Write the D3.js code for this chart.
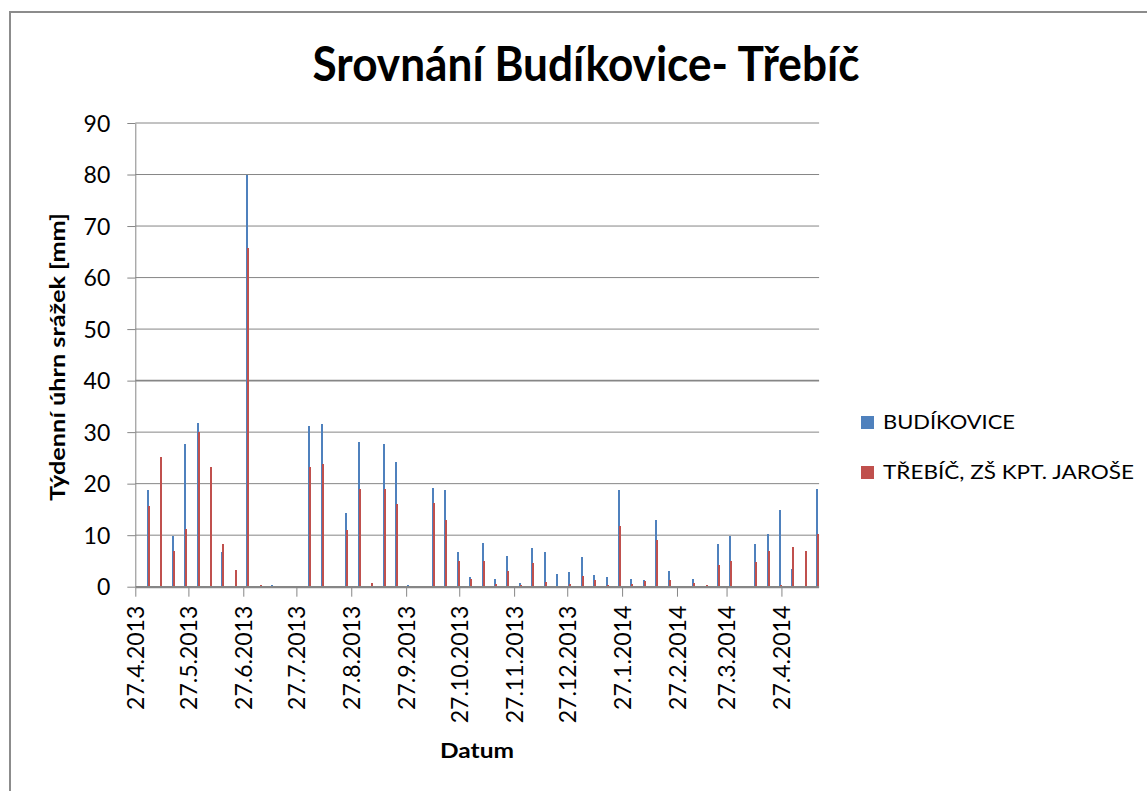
<!DOCTYPE html>
<html>
<head>
<meta charset="utf-8">
<script src="https://cdn.jsdelivr.net/npm/d3@7"></script>
<style>
  body { margin: 0; background: #fff; }
  svg { display: block; }
</style>
</head>
<body>
<div class="container"></div>
<script>
// weekly dates (d.M.yyyy) and weekly precipitation totals in mm
const dates = [
  "27.4.2013", "4.5.2013", "11.5.2013", "18.5.2013", "25.5.2013", "1.6.2013", "8.6.2013", "15.6.2013",
  "22.6.2013", "29.6.2013", "6.7.2013", "13.7.2013", "20.7.2013", "27.7.2013", "3.8.2013", "10.8.2013",
  "17.8.2013", "24.8.2013", "31.8.2013", "7.9.2013", "14.9.2013", "21.9.2013", "28.9.2013", "5.10.2013",
  "12.10.2013", "19.10.2013", "26.10.2013", "2.11.2013", "9.11.2013", "16.11.2013", "23.11.2013", "30.11.2013",
  "7.12.2013", "14.12.2013", "21.12.2013", "28.12.2013", "4.1.2014", "11.1.2014", "18.1.2014", "25.1.2014",
  "1.2.2014", "8.2.2014", "15.2.2014", "22.2.2014", "1.3.2014", "8.3.2014", "15.3.2014", "22.3.2014",
  "29.3.2014", "5.4.2014", "12.4.2014", "19.4.2014", "26.4.2014", "3.5.2014", "10.5.2014", "17.5.2014"
];

const budikovice = [
  0, 18.8, 0, 9.9, 27.7, 31.8, 0, 6.7,
  0, 80.0, 0.2, 0.3, 0, 0, 31.2, 31.5,
  0, 14.3, 28.1, 0, 27.7, 24.2, 0.3, 0,
  19.2, 18.8, 6.7, 1.9, 8.5, 1.5, 6.0, 0.7,
  7.5, 6.7, 2.5, 2.9, 5.8, 2.3, 1.9, 18.8,
  1.5, 1.3, 12.9, 3.0, 0, 1.5, 0.2, 8.3,
  9.9, 0, 8.3, 10.2, 14.9, 3.4, 0, 18.9
];

const trebic = [
  0, 15.7, 25.2, 6.9, 11.2, 30.0, 23.2, 8.3,
  3.2, 65.7, 0.3, 0, 0, 0, 23.2, 23.9,
  0, 11.1, 19.0, 0.7, 19.0, 16.1, 0, 0,
  16.2, 12.9, 4.9, 1.4, 5.0, 0.6, 3.0, 0.3,
  4.6, 1.0, 0, 0.5, 2.1, 1.3, 0.3, 11.8,
  0.5, 1.1, 9.1, 1.3, 0, 0.7, 0.3, 4.2,
  4.9, 0, 4.8, 6.9, 0.3, 7.7, 6.9, 10.2
];

const seriesNames = ["BUDÍKOVICE", "TŘEBÍČ, ZŠ KPT. JAROŠE"];
const seriesColors = ["#4F81BD", "#C0504D"];
const yTicks = [0, 10, 20, 30, 40, 50, 60, 70, 80, 90];
const xTickLabels = [
  "27.4.2013", "27.5.2013", "27.6.2013", "27.7.2013", "27.8.2013", "27.9.2013", "27.10.2013",
  "27.11.2013", "27.12.2013", "27.1.2014", "27.2.2014", "27.3.2014", "27.4.2014"
];
const axisStart = "27.4.2013";
const axisEnd = "18.5.2014";

function parseDate(s) {
  const p = s.split(".");
  return new Date(Date.UTC(+p[2], +p[1] - 1, +p[0]));
}

function formatDate(d) {
  return d.getUTCDate() + "." + (d.getUTCMonth() + 1) + "." + d.getUTCFullYear();
}

const data = dates.map(function(d, i) {
  return { date: parseDate(d), b: budikovice[i], t: trebic[i] };
});

drawChart(data);

function drawChart(data) {
  const W = 1147, H = 791;
  const left = 135.3, right = 818.6, top = 123, bottom = 586.7;
  const font = "Lato, 'Liberation Sans', sans-serif";
  const grey = "#868686";

  const svg = d3.select(".container")
    .append("svg")
    .attr("width", W)
    .attr("height", H);

  // chart border (runs off the picture right and bottom)
  svg.append("rect")
    .attr("x", 10).attr("y", 12)
    .attr("width", 1300).attr("height", 1000)
    .attr("fill", "none")
    .attr("stroke", "#8c8c8c")
    .attr("stroke-width", 2);

  const x = d3.scaleUtc()
    .domain([parseDate(axisStart), parseDate(axisEnd)])
    .range([left, right]);

  const y = d3.scaleLinear()
    .domain([0, 90])
    .range([bottom, top]);

  // gridlines
  svg.append("g")
    .selectAll("line")
    .data(yTicks.filter(function(d){ return d > 0; }))
    .enter()
    .append("line")
    .attr("x1", left).attr("x2", right + 0.5)
    .attr("y1", function(d){ return y(d); })
    .attr("y2", function(d){ return y(d); })
    .attr("stroke", grey)
    .attr("stroke-width", function(d){ return d === 40 ? 1.6 : 1; });

  // y axis
  const yAxis = svg.append("g")
    .attr("transform", "translate(" + left + ",0)")
    .call(d3.axisLeft(y).tickValues(yTicks).tickSize(8).tickSizeOuter(0).tickPadding(17));
  yAxis.select(".domain").attr("stroke", grey);
  yAxis.selectAll(".tick line").attr("stroke", grey);
  yAxis.selectAll("text")
    .attr("dy", "0.36em")
    .style("font-family", font)
    .style("font-size", "23px")
    .attr("fill", "#000");

  // bar centre = middle of the day slot, snapped to a whole pixel
  const half = 12 * 3600 * 1000;
  function xc(d) { return Math.floor(x(new Date(d.date.getTime() + half))); }

  // bars: blue behind, red in front, one pixel to the right
  svg.append("g")
    .attr("shape-rendering", "crispEdges")
    .selectAll(".barB")
    .data(data)
    .enter()
    .append("rect")
    .attr("class", "barB")
    .attr("x", function(d){ return xc(d) - 1; })
    .attr("y", function(d){ return y(d.b); })
    .attr("width", 2)
    .attr("height", function(d){ return bottom - y(d.b); })
    .attr("fill", seriesColors[0]);

  svg.append("g")
    .attr("shape-rendering", "crispEdges")
    .selectAll(".barT")
    .data(data)
    .enter()
    .append("rect")
    .attr("class", "barT")
    .attr("x", function(d){ return xc(d); })
    .attr("y", function(d){ return y(d.t); })
    .attr("width", 2)
    .attr("height", function(d){ return bottom - y(d.t); })
    .attr("fill", seriesColors[1]);

  // x axis
  const xAxis = svg.append("g")
    .attr("transform", "translate(0," + bottom + ")")
    .call(d3.axisBottom(x)
      .tickValues(xTickLabels.map(parseDate))
      .tickSize(10)
      .tickSizeOuter(0)
      .tickFormat(formatDate));
  xAxis.select(".domain")
    .attr("stroke", grey)
    .attr("stroke-width", 2.2);
  xAxis.selectAll(".tick line").attr("stroke", grey);
  xAxis.selectAll("text")
    .attr("transform", "rotate(-90)")
    .attr("x", -19)
    .attr("y", 0)
    .attr("dy", "0.36em")
    .style("text-anchor", "end")
    .style("font-family", font)
    .style("font-size", "23px")
    .attr("fill", "#000");

  // title
  svg.append("text")
    .attr("x", 586)
    .attr("y", 81)
    .attr("text-anchor", "middle")
    .attr("textLength", 547)
    .attr("lengthAdjust", "spacingAndGlyphs")
    .style("font-family", font)
    .style("font-weight", "bold")
    .style("font-size", "48px")
    .text("Srovnání Budíkovice- Třebíč");

  // axis titles
  svg.append("text")
    .attr("transform", "translate(65,357) rotate(-90)")
    .attr("text-anchor", "middle")
    .attr("textLength", 288)
    .attr("lengthAdjust", "spacingAndGlyphs")
    .style("font-family", font)
    .style("font-weight", "bold")
    .style("font-size", "21px")
    .text("Týdenní úhrn srážek [mm]");

  svg.append("text")
    .attr("x", 477)
    .attr("y", 758)
    .attr("text-anchor", "middle")
    .attr("textLength", 74)
    .attr("lengthAdjust", "spacingAndGlyphs")
    .style("font-family", font)
    .style("font-weight", "bold")
    .style("font-size", "21px")
    .text("Datum");

  // legend
  const legendWidths = [132, 251];
  const legend = svg.append("g")
    .selectAll("g")
    .data(seriesNames)
    .enter()
    .append("g")
    .attr("transform", function(d, i){ return "translate(861," + (416 + i * 50) + ")"; });
  legend.append("rect")
    .attr("width", 13).attr("height", 13)
    .attr("fill", function(d, i){ return seriesColors[i]; });
  legend.append("text")
    .attr("x", 22)
    .attr("y", 13)
    .attr("textLength", function(d, i){ return legendWidths[i]; })
    .attr("lengthAdjust", "spacingAndGlyphs")
    .style("font-family", font)
    .style("font-size", "19px")
    .text(function(d){ return d; });
}
</script>
</body>
</html>
